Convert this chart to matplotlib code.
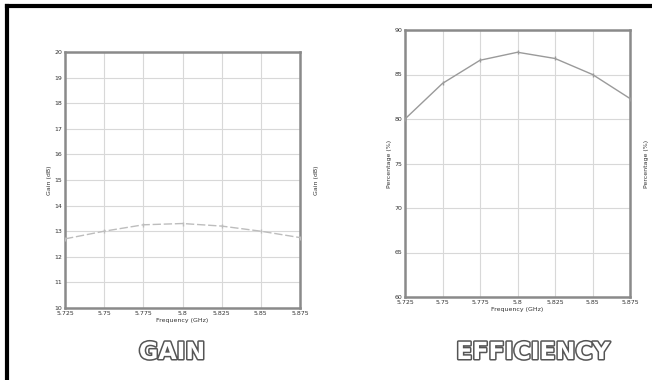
import matplotlib
matplotlib.use("Agg")
import matplotlib.pyplot as plt
import matplotlib.patheffects as pe
from matplotlib.lines import Line2D

freq = [5.725, 5.75, 5.775, 5.8, 5.825, 5.85, 5.875]
freq_labels = ["5.725", "5.75", "5.775", "5.8", "5.825", "5.85", "5.875"]
gain_db = [12.7, 13.0, 13.25, 13.3, 13.2, 13.0, 12.75]
efficiency_pct = [80.0, 84.0, 86.6, 87.5, 86.8, 85.0, 82.3]
gain_ticks = list(range(10, 21))
eff_ticks = [60, 65, 70, 75, 80, 85, 90]

W, H = 652, 380
fig = plt.figure(figsize=(W / 100, H / 100), dpi=100)
fig.patch.set_facecolor("white")

def ax_rect(x0, y0, x1, y1):
    return [x0 / W, 1 - y1 / H, (x1 - x0) / W, (y1 - y0) / H]

def style(ax, yticks, ylim, ylabel, line_y, line_color, ls):
    ax.set_xlim(freq[0], freq[-1])
    ax.set_ylim(*ylim)
    ax.set_xticks(freq)
    ax.set_xticklabels(freq_labels)
    ax.set_yticks(yticks)
    ax.grid(True, color="#d8d8d8", linewidth=0.8)
    ax.tick_params(labelsize=4.5, length=0, pad=2, colors="#333333",
                   labelright=True, right=False)
    for s in ax.spines.values():
        s.set_color("#8a8a8a")
        s.set_linewidth(1.8)
    ax.set_xlabel("Frequency (GHz)", fontsize=4.5, labelpad=1.5, color="#333333")
    ax.set_ylabel(ylabel, fontsize=4.5, labelpad=2, color="#333333")
    ax2 = ax.twinx()
    ax2.set_ylim(*ylim)
    ax2.set_yticks([])
    ax2.set_ylabel(ylabel, fontsize=4.5, labelpad=10, color="#333333")
    for s in ax2.spines.values():
        s.set_visible(False)
    ax.plot(freq, line_y, color=line_color, linewidth=1.0, linestyle=ls,
            marker="|", markersize=3, zorder=3)

ax1 = fig.add_axes(ax_rect(65, 52, 300, 308))
style(ax1, gain_ticks, (10, 20), "Gain (dB)", gain_db, "#bdbdbd", (0, (6, 2)))

ax2 = fig.add_axes(ax_rect(405, 30, 630, 297))
style(ax2, eff_ticks, (60, 90), "Percentage (%)", efficiency_pct, "#9a9a9a", "-")

for txt, x in [("GAIN", 172), ("EFFICIENCY", 533)]:
    fig.text(x / W, 1 - 352 / H, txt, ha="center", va="center",
             fontsize=17, fontweight="bold", color="white",
             family="DejaVu Sans",
             path_effects=[pe.withStroke(linewidth=2.2, foreground="#555555")])

# outer frame (left and top)
fig.add_artist(Line2D([7 / W, 7 / W], [0, 1 - 6 / H], transform=fig.transFigure,
                      color="black", linewidth=3))
fig.add_artist(Line2D([7 / W, 1], [1 - 6 / H, 1 - 6 / H], transform=fig.transFigure,
                      color="black", linewidth=3))

fig.savefig("out.png", dpi=100)
